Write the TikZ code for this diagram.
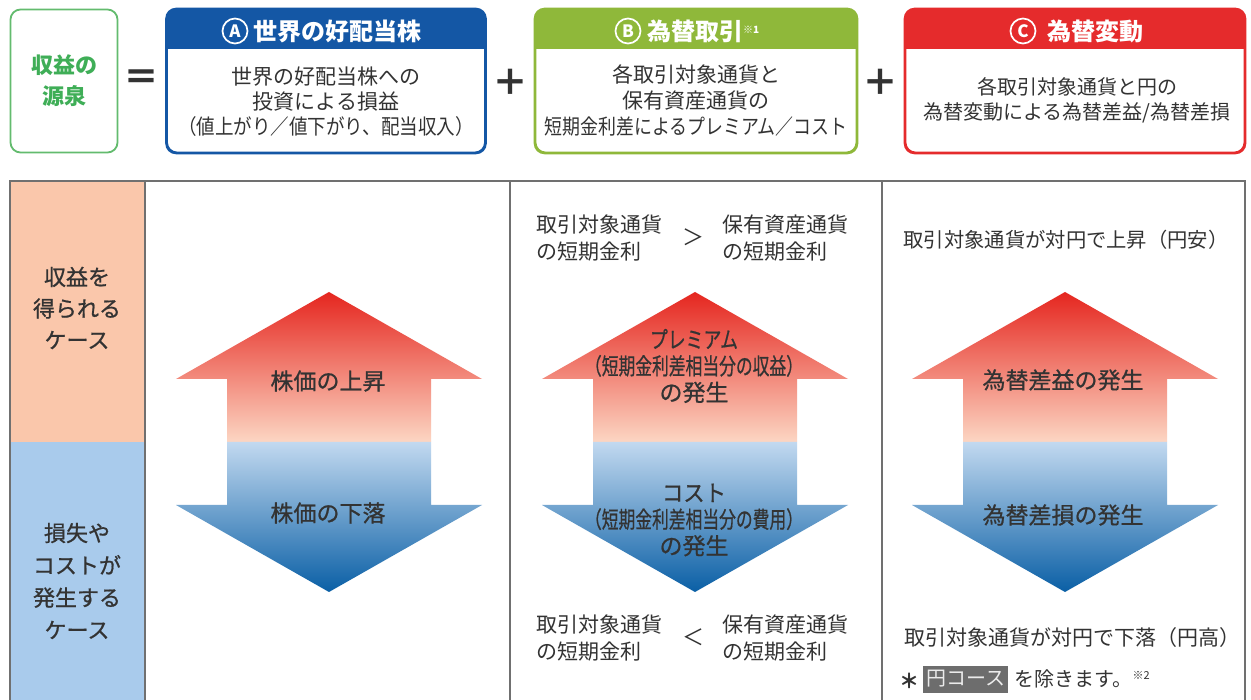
\documentclass[tikz,border=0pt]{standalone}
\usepackage{fontspec}
\usepackage{graphicx}
\setmainfont{Noto Sans CJK JP}
\newfontfamily\jpmed{Noto Sans CJK JP}[FakeBold=0.8]
\definecolor{greenL}{HTML}{63BB6E}
\definecolor{greenT}{HTML}{3FAE57}
\definecolor{blueA}{HTML}{1457A5}
\definecolor{greenB}{HTML}{8FB83A}
\definecolor{redC}{HTML}{E52B2C}
\definecolor{txtg}{HTML}{333333}
\definecolor{salmon}{HTML}{FAC7AB}
\definecolor{lblue}{HTML}{A9CBEC}
\definecolor{frameg}{HTML}{707070}
\definecolor{arRed}{HTML}{E5261F}
\definecolor{arMid}{HTML}{F2937A}
\definecolor{arLight}{HTML}{FCD6C3}
\definecolor{blTop}{HTML}{C2D9F0}
\definecolor{blMid}{HTML}{6F9ED0}
\definecolor{blDeep}{HTML}{0A5FA5}
\definecolor{noteg}{HTML}{6D6D6D}
\newcommand\fsz[2]{\fontsize{#1}{#2}\selectfont}
\newcommand\fitw[2]{\resizebox{#1}{\height}{#2}}
\tikzset{
  txt/.style={text=txtg, inner sep=0pt, align=center},
  topbox/.style={draw=#1, line width=1.8pt, rounded corners=10pt, fill=white, inner sep=0pt},
  hdr/.style={text=white, inner sep=0pt, anchor=west, font={\fsz{24}{28}\bfseries}},
  circ/.style={circle, draw=white, line width=1.7pt, minimum size=25pt, inner sep=0pt, text=white, font={\fsz{17}{20}\bfseries}},
  sym/.style={text=txtg, inner sep=0pt, font={\fsz{36}{40}\bfseries}},
  cell/.style={draw=frameg, line width=1.3pt},
  arrtxt/.style={text=txtg, inner sep=0pt, align=center, font={\jpmed\fsz{23}{26.5}}},
  sidetxt/.style={text=txtg, inner sep=0pt, align=center, font={\jpmed\fsz{22}{#1}}},
}
\newcommand\dblarrow[1]{%
  \shade[top color=arRed, middle color=arMid, bottom color=arLight]
    (#1,292) -- (#1+153,379) -- (#1+102,379) -- (#1+102,442) -- (#1-102,442)
    -- (#1-102,379) -- (#1-153,379) -- cycle;
  \shade[top color=blTop, middle color=blMid, bottom color=blDeep]
    (#1-102,442) -- (#1+102,442) -- (#1+102,505) -- (#1+153,505) -- (#1,592)
    -- (#1-153,505) -- (#1-102,505) -- cycle;
}
\begin{document}
\begin{tikzpicture}[x=1pt,y=-1pt]
\useasboundingbox[fill=white] (0,0) rectangle (1251,700);

% ---------- top row ----------
\node[topbox=greenL, minimum width=107pt, minimum height=143pt] (src) at (64,81) {};
\node[inner sep=0pt, text=greenT, align=center, font={\fsz{22}{31}\bfseries}] (srct) at (src.center) {収益の\\源泉};
\node[sym] (eq) at (141,80) {＝};

\node[topbox=blueA, minimum width=318pt, minimum height=143pt] (boxA) at (326,81) {};
\begin{scope}
  \clip[rounded corners=10pt] (boxA.north west) rectangle (boxA.south east);
  \fill[blueA] (boxA.north west) rectangle ([yshift=-40pt]boxA.north east);
\end{scope}
\draw[blueA, line width=1.8pt, rounded corners=10pt] (boxA.north west) rectangle (boxA.south east);
\node[circ] (cA) at (235,31) {A};
\node[hdr] (hA) at (253,31) {世界の好配当株};
\node[txt, font={\fsz{21}{25}}] (bA) at (326,102) {世界の好配当株への\\投資による損益\\\fitw{296pt}{（値上がり／値下がり、配当収入）}};

\node[sym] (plus1) at (510,82) {＋};

\node[topbox=greenB, minimum width=321pt, minimum height=143pt] (boxB) at (696,81) {};
\begin{scope}
  \clip[rounded corners=10pt] (boxB.north west) rectangle (boxB.south east);
  \fill[greenB] (boxB.north west) rectangle ([yshift=-40pt]boxB.north east);
\end{scope}
\draw[greenB, line width=1.8pt, rounded corners=10pt] (boxB.north west) rectangle (boxB.south east);
\node[circ] (cB) at (628,31) {B};
\node[hdr] (hB) at (647,31) {為替取引\raisebox{7pt}{\fsz{10}{12}※1}};
\node[txt, font={\fsz{21}{26}}] (bB) at (696,101) {各取引対象通貨と\\保有資産通貨の\\\fitw{303pt}{短期金利差によるプレミアム／コスト}};

\node[sym] (plus2) at (880,82) {＋};

\node[topbox=redC, minimum width=339pt, minimum height=143pt] (boxC) at (1075,81) {};
\begin{scope}
  \clip[rounded corners=10pt] (boxC.north west) rectangle (boxC.south east);
  \fill[redC] (boxC.north west) rectangle ([yshift=-40pt]boxC.north east);
\end{scope}
\draw[redC, line width=1.8pt, rounded corners=10pt] (boxC.north west) rectangle (boxC.south east);
\node[circ] (cC) at (1023,31) {C};
\node[hdr] (hC) at (1047,31) {為替変動};
\node[txt, font={\fsz{20}{25}}] (bC) at (1077,100) {各取引対象通貨と円の\\為替変動による為替差益/為替差損};

% ---------- table ----------
\fill[salmon] (10,181) rectangle (145,442);
\fill[lblue] (10,442) rectangle (145,700);
\draw[cell] (10,700) -- (10,181) -- (1245,181) -- (1245,700);
\draw[cell] (145,181) -- (145,700);
\draw[cell] (510,181) -- (510,700);
\draw[cell] (882,181) -- (882,700);

\node[sidetxt=31.5] (gain) at (77,308) {収益を\\得られる\\ケース};
\node[sidetxt=32.3] (loss) at (77,581) {損失や\\コストが\\発生する\\ケース};

% arrows
\dblarrow{329}
\dblarrow{695}
\dblarrow{1065}

\node[arrtxt] (aUp) at (328,381) {株価の上昇};
\node[arrtxt] (aDn) at (328,513) {株価の下落};

\node[arrtxt] (bUp) at (694,366) {\fitw{88pt}{プレミアム}\\\fitw{218pt}{（短期金利差相当分の収益）}\\の発生};
\node[arrtxt] (bDn) at (694,520) {\fitw{64pt}{コスト}\\\fitw{218pt}{（短期金利差相当分の費用）}\\の発生};

\node[arrtxt] (cUp) at (1063,380) {為替差益の発生};
\node[arrtxt] (cDn) at (1063,515) {為替差損の発生};

% column B conditions
\node[txt, align=left, anchor=west, font={\fsz{21}{27}}] (bT1) at (536,238) {取引対象通貨\\の短期金利};
\node[txt, font={\fsz{22}{26}}] (gt) at (693,237) {＞};
\node[txt, align=left, anchor=west, font={\fsz{21}{27}}] (bT2) at (722,238) {保有資産通貨\\の短期金利};

\node[txt, align=left, anchor=west, font={\fsz{21}{27}}] (bB1) at (536,638) {取引対象通貨\\の短期金利};
\node[txt, font={\fsz{22}{26}}] (lt) at (693,637) {＜};
\node[txt, align=left, anchor=west, font={\fsz{21}{27}}] (bB2) at (722,638) {保有資産通貨\\の短期金利};

% column C conditions
\node[txt, font={\fsz{20.3}{24}}] (cT) at (1066,240) {取引対象通貨が対円で上昇（円安）};
\node[txt, font={\fsz{21}{25}}] (cB) at (1072,638) {取引対象通貨が対円で下落（円高）};

\node[txt, anchor=west, font={\fsz{20}{24}\bfseries}] (ast) at (899,681) {＊};
\node[fill=noteg, text=white!92!black, inner xsep=3pt, inner ysep=0pt, minimum height=27pt, anchor=west, font={\fsz{20}{24}}] (yen) at (923,679) {円コース};
\node[txt, anchor=west, font={\fsz{20}{24}}] (excl) at ([xshift=6pt]yen.east) {を除きます。\raisebox{7pt}{\fsz{11}{13}※2}};
\end{tikzpicture}
\end{document}
